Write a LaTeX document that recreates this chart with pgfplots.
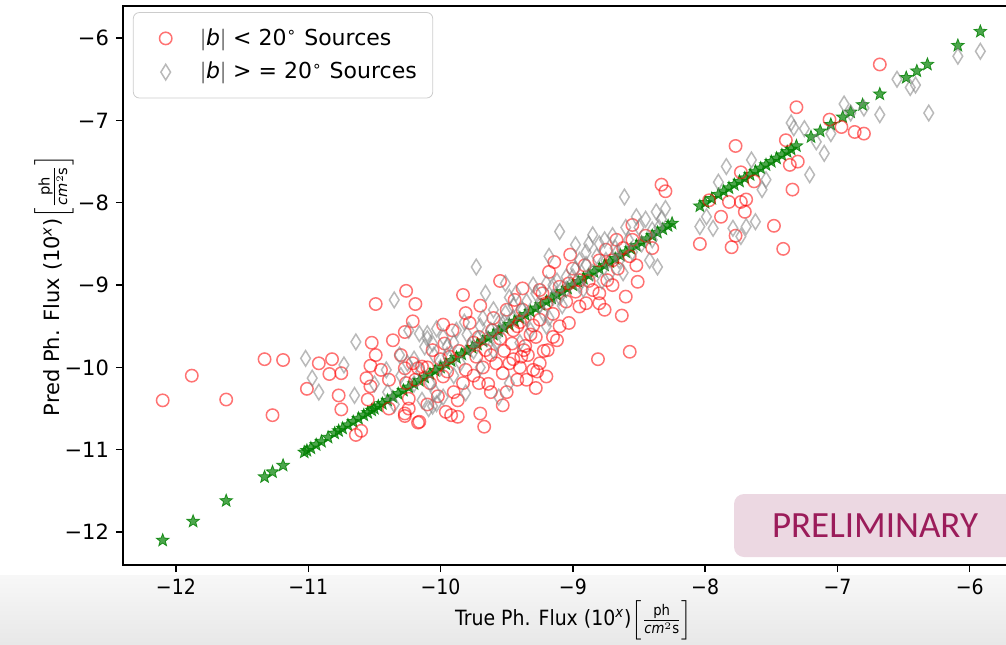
\documentclass[border=0pt]{standalone}
\usepackage{fontspec}
\setmainfont{DejaVu Sans}
\newfontfamily\condfont[FakeStretch=0.9]{DejaVu Sans}
\newfontfamily\prelimfont{Carlito}
\usepackage{amsmath}
\usepackage{pgfplots}
\pgfplotsset{compat=1.18}
\definecolor{prelimfill}{RGB}{236,216,226}
\definecolor{prelimtext}{RGB}{155,28,90}
\definecolor{mplgreen}{RGB}{0,128,0}

\pgfdeclareplotmark{fstar}{%
 \pgfpathmoveto{\pgfpointpolar{90}{\pgfplotmarksize}}%
 \pgfpathlineto{\pgfpointpolar{126}{0.42\pgfplotmarksize}}%
 \pgfpathlineto{\pgfpointpolar{162}{\pgfplotmarksize}}%
 \pgfpathlineto{\pgfpointpolar{198}{0.42\pgfplotmarksize}}%
 \pgfpathlineto{\pgfpointpolar{234}{\pgfplotmarksize}}%
 \pgfpathlineto{\pgfpointpolar{270}{0.42\pgfplotmarksize}}%
 \pgfpathlineto{\pgfpointpolar{306}{\pgfplotmarksize}}%
 \pgfpathlineto{\pgfpointpolar{342}{0.42\pgfplotmarksize}}%
 \pgfpathlineto{\pgfpointpolar{18}{\pgfplotmarksize}}%
 \pgfpathlineto{\pgfpointpolar{54}{0.42\pgfplotmarksize}}%
 \pgfpathclose
 \pgfusepathqfillstroke}
\pgfdeclareplotmark{thindiamond}{%
 \pgfpathmoveto{\pgfqpoint{0pt}{\pgfplotmarksize}}%
 \pgfpathlineto{\pgfpoint{0.62\pgfplotmarksize}{0pt}}%
 \pgfpathlineto{\pgfqpoint{0pt}{-\pgfplotmarksize}}%
 \pgfpathlineto{\pgfpoint{-0.62\pgfplotmarksize}{0pt}}%
 \pgfpathclose
 \pgfusepathqstroke}

\pgfplotstableread{
x y
-12.10 -10.40
-11.88 -10.10
-11.62 -10.39
-11.33 -9.90
-11.19 -9.91
-11.27 -10.58
-11.01 -10.26
-10.92 -9.95
-10.82 -9.90
-10.84 -10.08
-10.75 -10.07
-10.77 -10.34
-10.75 -10.51
-10.64 -10.82
-10.60 -10.77
-10.49 -9.23
-10.26 -9.07
-10.19 -9.23
-10.21 -9.44
-10.27 -9.57
-10.36 -9.67
-10.52 -9.70
-10.49 -9.85
-10.53 -9.98
-10.56 -10.13
-10.53 -10.23
-10.55 -10.39
-10.45 -10.03
-10.39 -10.15
-10.39 -10.50
-10.30 -9.85
-10.27 -10.01
-10.24 -10.38
-10.27 -10.56
-10.27 -10.59
-10.17 -10.67
-10.17 -10.01
-10.19 -10.15
-10.06 -9.79
-9.98 -9.48
-9.96 -10.54
-8.33 -7.78
-8.30 -7.86
-8.55 -8.27
-8.52 -8.76
-8.51 -8.96
-8.60 -9.14
-8.63 -9.37
-8.57 -9.81
-8.81 -9.90
-8.75 -8.57
-8.70 -8.70
-8.80 -9.22
-8.76 -9.30
-8.90 -9.22
-8.85 -9.06
-8.95 -9.26
-9.03 -9.46
-9.02 -8.63
-9.14 -8.72
-9.18 -8.84
-8.91 -8.76
-9.10 -9.02
-9.25 -9.06
-9.20 -9.22
-9.38 -9.04
-9.44 -9.18
-9.38 -9.30
-9.30 -9.49
-9.25 -9.42
-9.15 -9.63
-9.12 -9.67
-9.19 -9.79
-9.25 -9.95
-9.30 -10.03
-9.20 -10.11
-9.28 -10.25
-9.37 -9.79
-9.39 -9.87
-9.46 -9.71
-9.48 -9.95
-9.53 -10.07
-9.42 -10.15
-9.35 -10.15
-9.53 -10.46
-9.67 -10.72
-9.70 -10.56
-9.87 -10.60
-9.92 -10.58
-10.16 -10.66
-10.24 -10.50
-9.83 -9.12
-9.81 -9.34
-9.78 -9.46
-9.91 -9.55
-9.97 -9.71
-9.93 -9.87
-9.71 -9.63
-9.61 -9.55
-9.66 -9.79
-9.73 -9.87
-9.58 -9.95
-9.81 -10.03
-9.71 -10.19
-9.83 -10.19
-9.98 -10.11
-10.08 -10.19
-10.14 -9.99
-10.21 -9.95
-10.26 -10.19
-9.28 -9.63
-9.36 -9.74
-9.23 -9.10
-8.80 -9.10
-9.03 -8.98
-8.95 -8.94
-8.74 -8.94
-8.66 -8.80
-8.57 -8.65
-8.55 -8.45
-8.67 -8.45
-8.80 -8.70
-6.68 -6.32
-7.31 -6.84
-7.06 -6.99
-6.97 -7.08
-6.87 -7.14
-6.80 -7.16
-7.77 -7.31
-7.39 -7.24
-7.36 -7.54
-7.30 -7.50
-7.73 -7.63
-7.63 -7.74
-7.34 -7.84
-7.97 -7.97
-7.82 -7.99
-7.73 -7.99
-7.69 -7.96
-7.70 -8.11
-7.88 -8.17
-7.48 -8.28
-7.77 -8.40
-7.80 -8.54
-8.04 -8.50
-7.41 -8.56
-9.60 -9.40
-9.50 -9.30
-9.45 -9.55
-9.55 -9.65
-9.62 -9.85
-9.68 -10.00
-9.75 -10.10
-9.90 -10.30
-9.95 -10.05
-10.02 -10.35
-10.10 -10.45
-9.86 -9.80
-9.62 -10.30
-9.40 -10.00
-9.34 -9.85
-9.45 -9.90
-9.22 -9.80
-9.10 -9.50
-9.05 -9.20
-8.98 -9.08
-8.88 -8.95
-8.70 -9.00
-9.15 -9.35
-9.32 -9.60
-9.40 -9.45
-9.52 -9.80
-9.70 -9.25
-9.55 -8.95
-9.00 -8.80
-8.62 -8.55
-8.45 -8.40
-8.40 -8.55
-9.75 -9.70
-10.00 -9.90
-10.10 -10.00
-9.87 -10.40
-9.64 -10.20
-9.50 -10.30
-9.27 -10.05
-9.42 -9.50
}\redtab

\pgfplotstableread{
x y
-10.35 -9.18
-10.64 -9.69
-11.02 -9.89
-10.97 -10.13
-10.92 -10.30
-10.73 -9.97
-10.65 -10.34
-10.10 -9.59
-10.12 -9.75
-10.31 -9.85
-10.14 -10.40
-10.09 -10.50
-10.03 -10.44
-10.41 -10.03
-10.03 -9.53
-5.92 -6.16
-6.09 -6.22
-6.41 -6.57
-6.31 -6.91
-6.68 -6.93
-6.90 -6.91
-7.05 -7.16
-7.16 -7.26
-7.35 -7.03
-7.33 -7.09
-7.21 -7.66
-7.84 -7.56
-7.65 -7.48
-7.57 -7.84
-7.54 -7.72
-8.04 -8.29
-7.94 -8.31
-7.79 -8.31
-7.69 -8.29
-7.62 -8.23
-7.73 -8.41
-7.99 -8.17
-8.61 -7.93
-9.10 -8.35
-8.98 -8.51
-8.85 -8.39
-8.76 -8.45
-8.52 -8.17
-8.37 -8.11
-8.30 -8.07
-8.40 -8.33
-8.42 -8.70
-8.36 -8.78
-8.67 -8.61
-8.72 -8.86
-9.73 -8.78
-9.66 -9.10
-9.51 -8.98
-9.43 -9.10
-9.20 -8.98
-9.05 -8.90
-8.95 -8.70
-9.18 -8.65
-10.16 -9.59
-10.10 -9.65
-10.06 -9.71
-9.98 -9.63
-9.56 -9.46
-9.51 -9.34
-10.08 -10.19
-10.04 -10.30
-10.06 -10.47
-9.98 -10.36
-9.81 -10.31
-9.56 -10.36
-9.48 -10.19
-10.24 -9.55
-9.90 -9.70
-9.80 -9.60
-9.70 -9.50
-9.60 -9.30
-9.45 -9.25
-9.35 -9.20
-9.30 -9.00
-9.15 -9.00
-9.00 -8.90
-8.90 -8.60
-8.80 -8.50
-8.70 -8.40
-8.60 -8.30
-8.50 -8.30
-8.45 -8.20
-8.35 -8.30
-9.85 -9.95
-9.75 -9.80
-9.65 -9.65
-9.55 -9.55
-9.45 -9.40
-9.35 -9.40
-9.25 -9.25
-9.15 -9.15
-9.05 -9.05
-8.95 -9.00
-8.85 -8.85
-8.75 -8.70
-8.65 -8.70
-8.55 -8.60
-9.90 -10.10
-9.70 -10.00
-9.60 -9.80
-9.40 -9.70
-9.20 -9.50
-10.20 -10.20
-10.00 -10.00
-10.20 -9.90
-9.95 -9.85
-8.90 -8.75
-9.10 -9.15
-7.90 -7.75
-7.25 -7.10
-7.10 -7.40
-6.95 -6.80
-6.80 -6.85
-6.55 -6.50
-6.45 -6.60
-10.30 -10.10
-10.25 -9.95
-10.15 -10.05
-10.05 -9.85
-9.95 -9.75
-9.88 -9.55
-9.78 -9.75
-9.68 -9.40
-9.62 -9.55
-9.52 -9.45
-9.48 -9.15
-9.38 -9.30
-9.28 -9.10
-9.22 -9.35
-9.12 -8.95
-9.08 -9.25
-8.98 -8.80
-8.92 -9.05
-8.82 -8.65
-8.78 -8.95
-8.68 -8.55
-8.62 -8.85
-8.58 -8.45
-8.48 -8.50
-8.40 -8.45
-8.33 -8.20
-9.82 -9.45
-9.72 -9.65
-9.58 -9.70
-9.32 -9.55
-9.18 -9.40
-8.88 -8.50
-10.40 -10.30
-10.35 -10.45
-10.50 -10.20
}\graytab

\pgfplotstableread{
x y
-12.10 -12.10
-11.87 -11.87
-11.62 -11.62
-11.33 -11.33
-11.27 -11.27
-11.19 -11.19
-11.03 -11.03
-11.01 -11.01
-10.98 -10.98
-10.94 -10.94
-10.90 -10.90
-10.85 -10.85
-10.80 -10.80
-10.77 -10.77
-10.74 -10.74
-10.70 -10.70
-10.66 -10.66
-10.62 -10.62
-10.58 -10.58
-10.55 -10.55
-10.52 -10.52
-10.50 -10.50
-10.47 -10.47
-10.44 -10.44
-10.40 -10.40
-10.36 -10.36
-10.32 -10.32
-10.28 -10.28
-10.24 -10.24
-10.20 -10.20
-10.16 -10.16
-10.12 -10.12
-10.08 -10.08
-10.04 -10.04
-10.00 -10.00
-9.96 -9.96
-9.92 -9.92
-9.88 -9.88
-9.84 -9.84
-9.80 -9.80
-9.76 -9.76
-9.72 -9.72
-9.68 -9.68
-9.64 -9.64
-9.60 -9.60
-9.56 -9.56
-9.52 -9.52
-9.48 -9.48
-9.44 -9.44
-9.40 -9.40
-9.36 -9.36
-9.32 -9.32
-9.28 -9.28
-9.24 -9.24
-9.20 -9.20
-9.16 -9.16
-9.12 -9.12
-9.08 -9.08
-9.04 -9.04
-9.00 -9.00
-8.96 -8.96
-8.92 -8.92
-8.88 -8.88
-8.84 -8.84
-8.80 -8.80
-8.76 -8.76
-8.72 -8.72
-8.68 -8.68
-8.64 -8.64
-8.60 -8.60
-8.56 -8.56
-8.52 -8.52
-8.48 -8.48
-8.44 -8.44
-8.40 -8.40
-8.36 -8.36
-8.32 -8.32
-8.28 -8.28
-8.25 -8.25
-8.04 -8.04
-8.00 -8.00
-7.95 -7.95
-7.90 -7.90
-7.86 -7.86
-7.82 -7.82
-7.78 -7.78
-7.74 -7.74
-7.70 -7.70
-7.66 -7.66
-7.62 -7.62
-7.58 -7.58
-7.54 -7.54
-7.50 -7.50
-7.46 -7.46
-7.42 -7.42
-7.38 -7.38
-7.35 -7.35
-7.31 -7.31
-7.20 -7.20
-7.13 -7.13
-7.05 -7.05
-6.96 -6.96
-6.90 -6.90
-6.81 -6.81
-6.68 -6.68
-6.48 -6.48
-6.40 -6.40
-6.32 -6.32
-6.09 -6.09
-5.92 -5.92
}\startab

\begin{document}
\begin{tikzpicture}
% light grey slide band at the bottom
\shade[top color=black!3, bottom color=black!9] (-61.5pt,-39.5pt) rectangle (441.5pt,-5pt);
\begin{axis}[
  at={(0pt,0pt)}, anchor=south west,
  scale only axis, width=450.5pt, height=279.5pt,
  xmin=-12.40, xmax=-5.59, ymin=-12.40, ymax=-5.61,
  xtick={-12,-11,-10,-9,-8,-7,-6},
  xticklabels={−12,−11,−10,−9,−8,−7,−6},
  ytick={-12,-11,-10,-9,-8,-7,-6},
  yticklabels={−12,−11,−10,−9,−8,−7,−6},
  tick pos=left, tick align=outside,
  major tick length=3.5pt,
  every tick/.style={black, line width=0.7pt},
  axis line style={line width=0.8pt},
  yticklabel style={font=\fontsize{10.5}{12}\selectfont},
  xticklabel style={font=\condfont\fontsize{10.5}{12}\selectfont},
  xlabel={True Ph. Flux (10\textsuperscript{\itshape x})$\left[\frac{\text{ph}}{\textit{cm}^{2}\text{s}}\right]$},
  ylabel={Pred Ph. Flux (10\textsuperscript{\itshape x})$\left[\frac{\text{ph}}{\textit{cm}^{2}\text{s}}\right]$},
  xlabel style={font=\condfont\fontsize{10.5}{12}\selectfont, at={(axis description cs:0.5,0)}, anchor=center, yshift=-27.5pt},
  ylabel style={font=\fontsize{10.5}{12}\selectfont, at={(axis description cs:0,0.5)}, anchor=center, yshift=34.5pt},
  legend style={at={(axis description cs:0.011,0.989)}, anchor=north west,
    draw=black!20, rounded corners=3pt, fill=white,
    font=\fontsize{11}{13}\selectfont, row sep=3pt, inner xsep=6pt, inner ysep=6pt},
  legend cell align=left,
  legend image code/.code={%
    \path (0pt,0pt) (25pt,0pt);
    \draw[#1] plot coordinates {(10pt,0pt)};},
]
\addplot[only marks, mark=fstar, mark size=3.3pt, forget plot,
  mark options={draw=mplgreen, fill=mplgreen, fill opacity=0.7, draw opacity=0.8, line width=0.4pt}] table[x=x,y=y] {\startab};
\addplot[only marks, mark=o, mark size=3.1pt,
  mark options={draw=red, draw opacity=0.55, line width=0.75pt}] table[x=x,y=y] {\redtab};
\addlegendentry{$|$\textit{b}$|$ < 20\textsuperscript{∘} Sources}
\addplot[only marks, mark=thindiamond, mark size=3.9pt,
  mark options={draw=gray, draw opacity=0.55, line width=0.75pt}] table[x=x,y=y] {\graytab};
\addlegendentry{$|$\textit{b}$|$ > = 20\textsuperscript{∘} Sources}
\end{axis}
% PRELIMINARY banner
\fill[prelimfill, rounded corners=5pt] (305.5pt,4pt) rectangle (455pt,35.5pt);
\node[text=prelimtext, font=\prelimfont\fontsize{18.5}{20}\selectfont] at (376pt,19.5pt) {PRELIMINARY};
\pgfresetboundingbox
\path[use as bounding box] (-61.5pt,-39.5pt) rectangle (441.5pt,282.5pt);
\end{tikzpicture}
\end{document}
